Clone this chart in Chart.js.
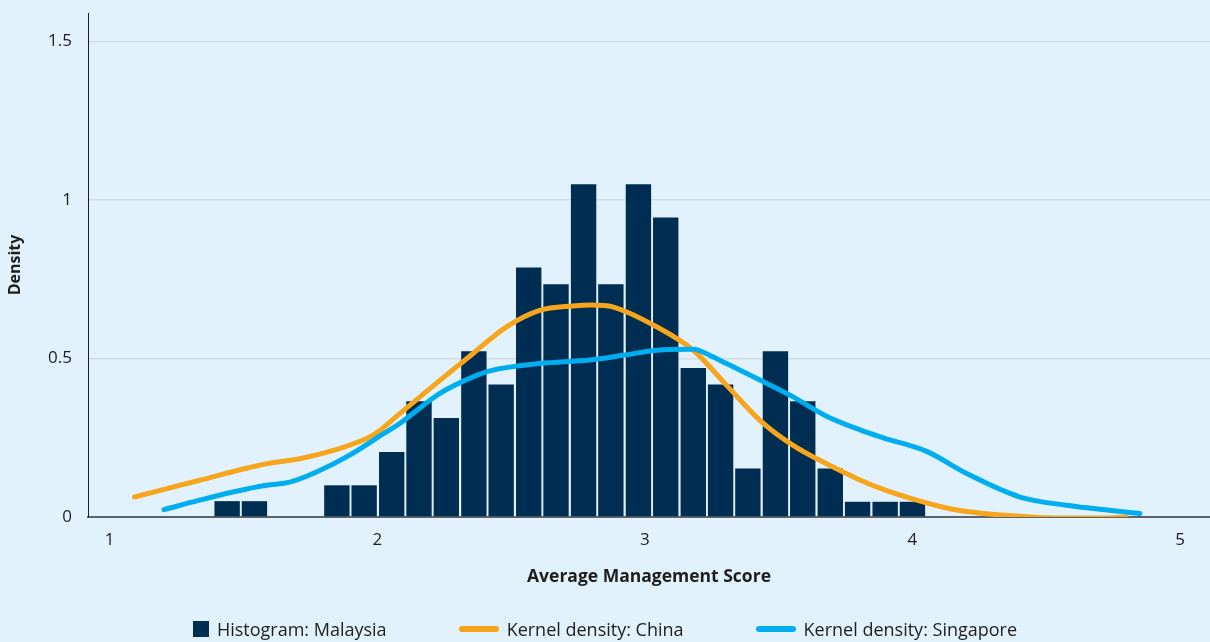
<!DOCTYPE html>
<html>
<head>
<meta charset="utf-8">
<script src="https://cdn.jsdelivr.net/npm/chart.js@4.4.1/dist/chart.umd.min.js"></script>
<style>
  html, body { margin: 0; padding: 0; background: #e1f2fc; }
  #wrap { position: relative; width: 1210px; height: 642px; }
  #legend {
    position: absolute; left: 0; top: 618px; width: 1210px; height: 22px;
    display: flex; justify-content: center; gap: 72px;
    font: 18px "Open Sans", sans-serif; color: #1e1e1e; line-height: 22px;
  }
  #legend .item { display: flex; align-items: center; white-space: nowrap; }
  #legend .sq { width: 16px; height: 16px; margin-right: 8px; }
  #legend .ln { width: 40px; height: 6px; border-radius: 3px; margin-right: 8px; }
</style>
</head>
<body>
<div id="wrap">
  <canvas id="chart" width="1210" height="642"></canvas>
  <div id="legend"></div>
</div>
<script>
/* =========================
    DATA
========================= */

// Histogramm Malaysia: Bin-Mitten und Dichte
const binCenters = [1.439, 1.541, 1.644, 1.746, 1.849, 1.951, 2.054, 2.156, 2.258, 2.361,
  2.463, 2.566, 2.668, 2.771, 2.873, 2.976, 3.078, 3.181, 3.283, 3.385,
  3.488, 3.590, 3.693, 3.795, 3.898, 4.000];
const malaysia = [0.05, 0.05, 0, 0, 0.1, 0.1, 0.205, 0.365, 0.312, 0.523,
  0.418, 0.787, 0.734, 1.05, 0.734, 1.05, 0.945, 0.47, 0.418, 0.153,
  0.523, 0.365, 0.153, 0.048, 0.048, 0.048];

// Kernel density China
const chinaX = [1.093, 1.336, 1.586, 1.710, 1.835, 1.984, 2.084, 2.234, 2.358, 2.483,
  2.607, 2.732, 2.800, 2.880, 3.044, 3.181, 3.305, 3.430, 3.554, 3.679,
  3.804, 3.891, 4.016, 4.140, 4.265, 4.390, 4.550, 4.700, 4.798];
const chinaY = [0.063, 0.116, 0.168, 0.184, 0.210, 0.258, 0.326, 0.431, 0.516, 0.600,
  0.652, 0.666, 0.669, 0.663, 0.600, 0.526, 0.416, 0.305, 0.226, 0.168,
  0.117, 0.087, 0.053, 0.026, 0.011, 0.003, -0.003, -0.003, 0.0];

// Kernel density Singapore
const singX = [1.203, 1.336, 1.461, 1.586, 1.673, 1.773, 1.897, 2.022, 2.084, 2.234,
  2.358, 2.421, 2.607, 2.794, 2.919, 3.044, 3.181, 3.243, 3.305, 3.430,
  3.554, 3.679, 3.804, 3.891, 4.053, 4.203, 4.402, 4.576, 4.850];
const singY = [0.023, 0.053, 0.079, 0.100, 0.110, 0.142, 0.195, 0.262, 0.295, 0.390,
  0.442, 0.461, 0.484, 0.495, 0.510, 0.526, 0.529, 0.510, 0.484, 0.432,
  0.379, 0.318, 0.275, 0.250, 0.207, 0.137, 0.063, 0.037, 0.011];

const xTicks = [1, 2, 3, 4, 5];
const yTicks = [0, 0.5, 1, 1.5];

const COLORS = { bar: "#002d52", china: "#f7a51c", sing: "#00aeef" };
const FONT = "Open Sans";

const pts = (xs, ys) => xs.map((x, i) => ({ x, y: ys[i] }));

/* =========================
    CHART
========================= */

const lineStyle = {
  type: "line",
  borderWidth: 5,
  pointRadius: 0,
  cubicInterpolationMode: "monotone",
  borderCapStyle: "round",
  borderJoinStyle: "round"
};

const datasets = [
  {
    type: "bar",
    label: "Histogram: Malaysia",
    data: pts(binCenters, malaysia),
    backgroundColor: COLORS.bar,
    borderWidth: 0,
    barPercentage: 1,
    categoryPercentage: 0.93,
    order: 3
  },
  {
    ...lineStyle,
    label: "Kernel density: China",
    data: pts(chinaX, chinaY),
    borderColor: COLORS.china,
    order: 2
  },
  {
    ...lineStyle,
    label: "Kernel density: Singapore",
    data: pts(singX, singY),
    borderColor: COLORS.sing,
    order: 1
  }
];

new Chart(document.getElementById("chart"), {
  type: "bar",
  data: { datasets },
  options: {
    responsive: false,
    animation: false,
    layout: { padding: { top: 13, right: 0, bottom: 42, left: 0 } },
    plugins: { legend: { display: false }, tooltip: { enabled: false } },
    scales: {
      x: {
        type: "linear",
        min: 0.919,
        max: 5.112,
        offset: false,
        afterFit: s => { s.height = 83; s.paddingLeft = 0; s.paddingRight = 0; },
        afterBuildTicks: s => { s.ticks = xTicks.map(v => ({ value: v })); },
        grid: { display: false, drawTicks: false },
        border: { display: true, color: "#5b646c", width: 2 },
        ticks: {
          padding: 13,
          color: "#1e1e1e",
          font: { family: FONT, size: 17 },
          callback: v => String(v)
        },
        title: {
          display: true,
          text: "Average Management Score",
          color: "#1e1e1e",
          font: { family: FONT, size: 17.5, weight: "bold" },
          padding: { top: 0, bottom: 12 }
        }
      },
      y: {
        min: 0,
        max: 1.59,
        afterFit: s => { s.width = 88; s.paddingTop = 0; s.paddingBottom = 0; },
        afterBuildTicks: s => { s.ticks = yTicks.map(v => ({ value: v })); },
        grid: { color: "#d3dbe0", lineWidth: 1.5, drawTicks: false },
        border: { display: true, color: "#1e1e1e", width: 1 },
        ticks: {
          padding: 16,
          color: "#1e1e1e",
          font: { family: FONT, size: 17 },
          callback: v => String(v)
        },
        title: {
          display: true,
          text: "Density",
          color: "#1e1e1e",
          font: { family: FONT, size: 16, weight: "bold" },
          padding: { top: 6, bottom: 0 }
        }
      }
    }
  }
});

/* =========================
    LEGEND (HTML)
========================= */

const legendEl = document.getElementById("legend");
datasets.forEach(ds => {
  const item = document.createElement("span");
  item.className = "item";
  const mark = document.createElement("i");
  mark.className = ds.type === "bar" ? "sq" : "ln";
  mark.style.background = ds.type === "bar" ? ds.backgroundColor : ds.borderColor;
  item.appendChild(mark);
  item.appendChild(document.createTextNode(ds.label));
  legendEl.appendChild(item);
});
</script>
</body>
</html>
